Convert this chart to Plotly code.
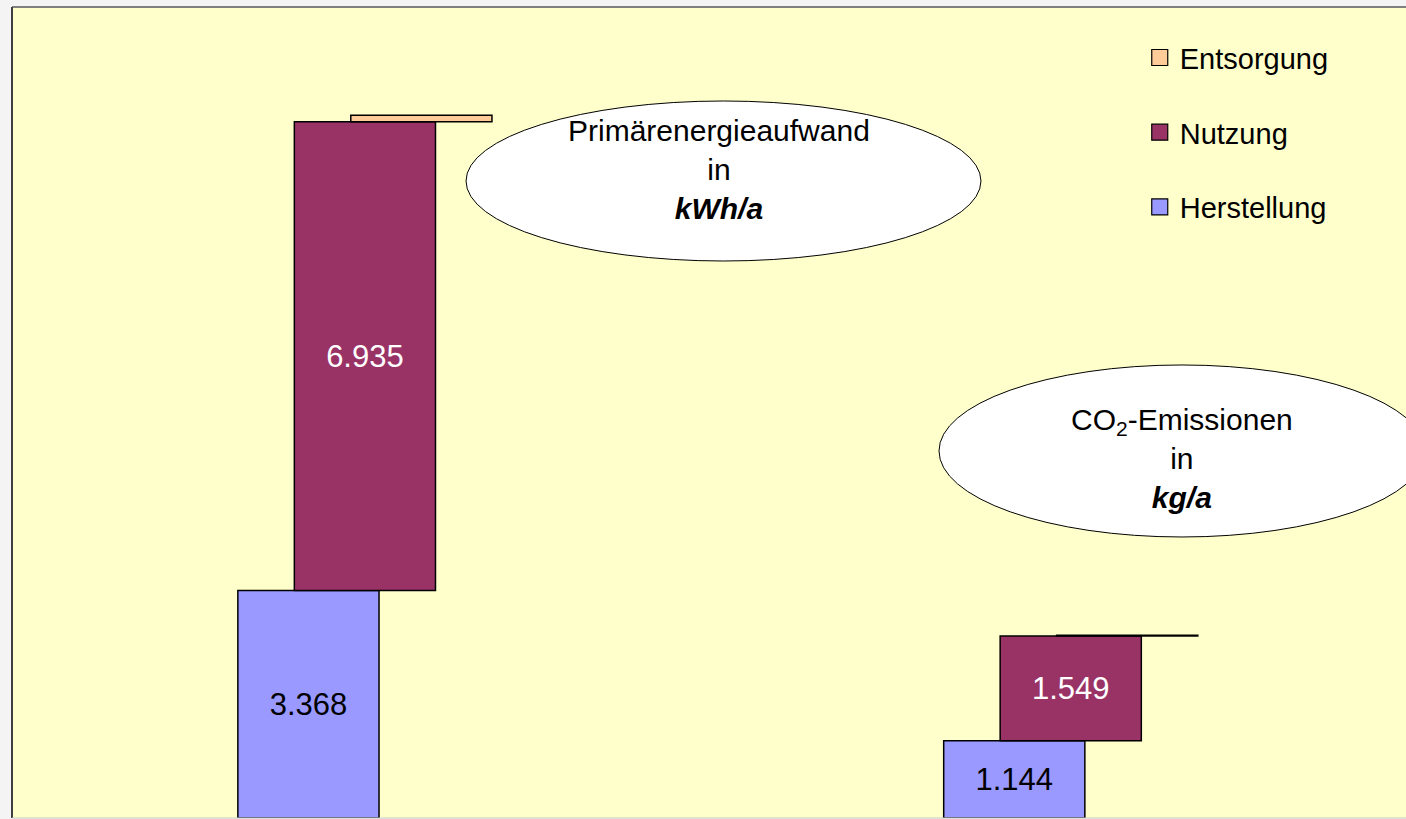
import plotly.graph_objects as go

# ---- data ----
categories = ["Primärenergieaufwand", "CO2-Emissionen"]
series_names = ["Herstellung", "Nutzung", "Entsorgung"]
herstellung = [3368, 1144]
nutzung = [6935, 1549]
entsorgung = [95, 12]

colors = {"Herstellung": "#9999FF", "Nutzung": "#993366", "Entsorgung": "#FFCC99"}
label_colors = {"Herstellung": "black", "Nutzung": "white", "Entsorgung": "black"}
offsets = {"Herstellung": -0.18, "Nutzung": -0.10, "Entsorgung": -0.02}

values = {"Herstellung": herstellung, "Nutzung": nutzung, "Entsorgung": entsorgung}
bases = {
    "Herstellung": [0 for _ in categories],
    "Nutzung": list(herstellung),
    "Entsorgung": [h + n for h, n in zip(herstellung, nutzung)],
}

FONT = "Arial, Liberation Sans, sans-serif"

fig = go.Figure()
for name in series_names:
    show_text = name != "Entsorgung"
    if show_text:
        kw = dict(texttemplate="%{y:,.0f}", textposition="inside",
                  insidetextanchor="middle", textangle=0, constraintext="none",
                  textfont=dict(family=FONT, size=31, color=label_colors[name]))
    else:
        kw = dict(textposition="none")
    fig.add_trace(go.Bar(
        name=name,
        x=categories,
        y=values[name],
        base=bases[name],
        width=0.2,
        offset=offsets[name],
        marker=dict(color=colors[name], line=dict(color="black", width=1.5)),
        showlegend=False,
        **kw,
    ))

# legend swatches (top to bottom: Entsorgung, Nutzung, Herstellung)
for name in reversed(series_names):
    fig.add_trace(go.Scatter(
        x=[None], y=[None], mode="markers", name=name,
        legendgroup=name,
        marker=dict(symbol="square", size=20, color=colors[name],
                    line=dict(color="black", width=1.2)),
    ))

shapes = [
    # ellipses
    dict(type="circle", xref="paper", yref="paper",
         x0=0.3257, x1=0.6951, y0=0.6868, y1=0.8841,
         fillcolor="white", line=dict(color="black", width=1)),
    dict(type="circle", xref="paper", yref="paper",
         x0=0.665, x1=1.0136, y0=0.3465, y1=0.5586,
         fillcolor="white", line=dict(color="black", width=1)),
    # frame lines
    dict(type="line", xref="paper", yref="paper", x0=0, x1=1, y0=1, y1=1,
         line=dict(color="#808080", width=2)),
    dict(type="line", xref="paper", yref="paper", x0=0, x1=0, y0=0, y1=1,
         line=dict(color="#404040", width=2)),
    dict(type="line", xref="paper", yref="paper", x0=0, x1=1, y0=0, y1=0,
         line=dict(color="#C8C8C8", width=1)),
]

annotations = [
    dict(xref="paper", yref="paper", x=0.5072, y=0.7996,
         xanchor="center", yanchor="middle",
         text="Primärenergieaufwand<br>in<br><b><i>kWh/a</i></b>",
         showarrow=False, align="center",
         font=dict(family=FONT, size=30, color="black")),
    dict(xref="paper", yref="paper", x=0.8393, y=0.4433,
         xanchor="center", yanchor="middle",
         text="CO<sub>2</sub>-Emissionen<br>in<br><b><i>kg/a</i></b>",
         showarrow=False, align="center",
         font=dict(family=FONT, size=30, color="black")),
]

fig.update_layout(
    width=1406, height=819,
    margin=dict(l=12, r=0, t=7, b=1, pad=0),
    paper_bgcolor="#F4F4F4",
    plot_bgcolor="#FFFFCC",
    barmode="overlay",
    separators=",.",
    showlegend=True,
    legend=dict(x=0.809, y=0.969, xanchor="left", yanchor="top",
                bgcolor="rgba(0,0,0,0)", traceorder="grouped",
                tracegroupgap=34,
                font=dict(family=FONT, size=29, color="black")),
    xaxis=dict(range=[-0.5, 1.475], showticklabels=False, showgrid=False,
               zeroline=False, showline=False, ticks=""),
    yaxis=dict(range=[0, 12000], showticklabels=False, showgrid=False,
               zeroline=False, showline=False, ticks=""),
    shapes=shapes,
    annotations=annotations,
)

fig.write_html("out.html",
               config={"displayModeBar": False},
               post_script="document.body.style.margin='0';document.body.style.overflow='hidden';")
